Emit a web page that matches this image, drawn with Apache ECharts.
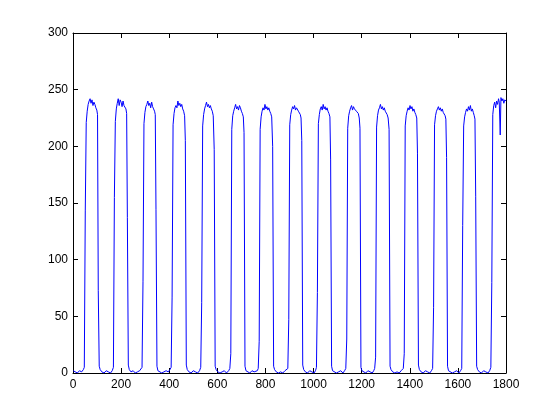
<!DOCTYPE html>
<html>
<head>
<meta charset="utf-8">
<script src="https://cdn.jsdelivr.net/npm/echarts@6/dist/echarts.min.js"></script>
<style>
  html, body { margin: 0; padding: 0; background: #fff; }
  #chart { width: 560px; height: 420px; }
</style>
</head>
<body>
<div id="chart"></div>
<script>
// sample index / value pairs, one row per pulse + the gap after it
const sampleX = [
  1, 9, 18, 27, 36, 43, 47,
  51, 55, 59, 63, 67, 71, 75, 79, 83, 87, 91, 95, 99, 102, 105,
  109, 113, 120, 129, 138, 147, 156, 163, 168,
  172, 176, 180, 184, 188, 192, 196, 200, 204, 208, 212, 216, 220, 223, 226,
  230, 234, 241, 250, 259, 268, 277, 282, 287,
  291, 295, 299, 303, 307, 311, 315, 319, 323, 327, 331, 335, 339, 342, 345,
  349, 353, 360, 369, 378, 387, 396, 403, 408,
  412, 416, 420, 424, 428, 432, 436, 440, 444, 448, 452, 456, 460, 464, 467,
  471, 475, 482, 491, 500, 509, 518, 526, 531,
  535, 539, 543, 547, 551, 555, 559, 563, 567, 571, 575, 579, 583, 587,
  591, 595, 602, 611, 620, 629, 638, 647, 652,
  656, 660, 664, 668, 672, 676, 680, 684, 688, 692, 696, 700, 704, 708, 711,
  715, 719, 726, 735, 744, 753, 761, 766, 770,
  774, 778, 782, 786, 790, 794, 798, 802, 806, 810, 814, 818, 822, 826, 830,
  834, 838, 845, 854, 863, 872, 881, 888, 893,
  897, 901, 905, 909, 913, 917, 921, 925, 929, 933, 937, 941, 945, 948, 951,
  955, 959, 966, 975, 984, 993, 1002, 1008, 1012,
  1016, 1020, 1024, 1028, 1032, 1036, 1040, 1044, 1048, 1052, 1056, 1060, 1064, 1068, 1071,
  1075, 1079, 1086, 1095, 1104, 1113, 1122, 1129, 1134,
  1138, 1142, 1146, 1150, 1154, 1158, 1162, 1166, 1170, 1174, 1178, 1182, 1186, 1190, 1193,
  1197, 1201, 1208, 1217, 1226, 1235, 1244, 1250, 1254,
  1258, 1262, 1266, 1270, 1274, 1278, 1282, 1286, 1290, 1294, 1298, 1302, 1306, 1310, 1314,
  1318, 1322, 1329, 1338, 1347, 1356, 1364, 1369, 1373,
  1377, 1381, 1385, 1389, 1393, 1397, 1401, 1405, 1409, 1413, 1417, 1421, 1425, 1429, 1432,
  1436, 1440, 1447, 1456, 1465, 1474, 1483, 1490, 1495,
  1499, 1503, 1507, 1511, 1515, 1519, 1523, 1527, 1531, 1535, 1539, 1543, 1547, 1550, 1553,
  1557, 1561, 1568, 1577, 1586, 1595, 1604, 1611, 1616,
  1620, 1624, 1628, 1632, 1636, 1640, 1644, 1648, 1652, 1656, 1660, 1664, 1668, 1671, 1674,
  1678, 1682, 1689, 1698, 1707, 1716, 1725, 1732, 1737,
  1741, 1745, 1749, 1753, 1757, 1761, 1765, 1769, 1772, 1776, 1779, 1783, 1787, 1791, 1795, 1800
]
const sampleY = [
  2, 1, 0, 2, 1, 3, 5,
  143, 221, 231, 237, 240, 242, 238, 241, 236, 239, 237, 234, 232, 228, 73,
  6, 3, 1, 0, 2, 1, 0, 2, 5,
  155, 222, 233, 238, 242, 236, 241, 239, 235, 240, 236, 237, 233, 229, 137,
  7, 3, 1, 2, 0, 1, 2, 3, 5,
  81, 220, 230, 235, 237, 240, 236, 238, 234, 239, 235, 233, 231, 228, 144,
  6, 2, 1, 0, 1, 2, 1, 3, 5,
  67, 219, 229, 234, 236, 234, 240, 236, 238, 235, 237, 233, 231, 227, 205,
  7, 3, 1, 0, 2, 1, 0, 2, 5,
  62, 218, 228, 233, 236, 239, 235, 237, 234, 236, 233, 231, 227, 197,
  6, 3, 1, 0, 1, 2, 0, 2, 4,
  17, 215, 227, 231, 234, 237, 233, 235, 232, 236, 234, 231, 229, 226, 212,
  6, 2, 1, 0, 2, 1, 0, 2, 4,
  28, 215, 226, 231, 234, 232, 237, 233, 235, 232, 234, 231, 229, 226, 200,
  6, 3, 1, 0, 1, 0, 2, 2, 4,
  47, 219, 228, 232, 235, 233, 236, 232, 234, 233, 231, 230, 228, 225, 205,
  7, 3, 1, 0, 2, 1, 0, 2, 5,
  71, 220, 228, 233, 235, 232, 237, 233, 235, 232, 234, 231, 229, 226, 188,
  6, 2, 1, 0, 1, 2, 0, 2, 4,
  30, 216, 227, 231, 234, 236, 232, 235, 233, 234, 231, 232, 229, 225, 216,
  5, 2, 1, 0, 2, 1, 0, 2, 4,
  14, 217, 227, 232, 234, 237, 233, 235, 232, 234, 231, 230, 228, 225, 215,
  6, 3, 1, 0, 1, 0, 2, 2, 4,
  17, 218, 227, 231, 234, 232, 236, 233, 235, 231, 233, 230, 228, 225, 194,
  7, 3, 1, 0, 2, 1, 0, 2, 4,
  58, 219, 227, 231, 233, 235, 232, 234, 231, 233, 230, 229, 227, 224, 190,
  6, 2, 1, 0, 1, 2, 0, 2, 4,
  130, 218, 226, 230, 233, 231, 235, 232, 236, 231, 233, 230, 227, 224, 156,
  6, 3, 1, 0, 2, 1, 0, 2, 5,
  80, 228, 236, 239, 234, 240, 237, 242, 239, 210, 243, 240, 242, 238, 241, 240
]

const xTicks = [0, 200, 400, 600, 800, 1000, 1200, 1400, 1600, 1800]
const yTicks = [0, 50, 100, 150, 200, 250, 300]

const chart = echarts.init(document.getElementById('chart'))

const points = sampleX.map((x, i) => [x, sampleY[i]])

const labelFont = { fontFamily: 'Liberation Sans, Arial, sans-serif', fontSize: 12, color: '#000' }
const axisLine = { show: true, onZero: false, lineStyle: { color: '#000', width: 1 } }
const tickIn = { show: true, inside: true, length: 5, lineStyle: { color: '#000' } }
const plain = v => String(v)

chart.setOption({
  animation: false,
  grid: { left: 73, right: 54, top: 33, bottom: 47 },
  xAxis: [
    {
      type: 'value', position: 'bottom',
      min: xTicks[0], max: xTicks[xTicks.length - 1], interval: 200,
      axisLine, axisTick: tickIn, splitLine: { show: false },
      axisLabel: { ...labelFont, margin: 6, formatter: plain }
    },
    {
      type: 'value', position: 'top',
      min: xTicks[0], max: xTicks[xTicks.length - 1], interval: 200,
      axisLine, axisTick: tickIn, splitLine: { show: false },
      axisLabel: { show: false }
    }
  ],
  yAxis: [
    {
      type: 'value', position: 'left',
      min: yTicks[0], max: yTicks[yTicks.length - 1], interval: 50,
      axisLine, axisTick: tickIn, splitLine: { show: false },
      axisLabel: { ...labelFont, margin: 5, formatter: plain }
    },
    {
      type: 'value', position: 'right',
      min: yTicks[0], max: yTicks[yTicks.length - 1], interval: 50,
      axisLine, axisTick: tickIn, splitLine: { show: false },
      axisLabel: { show: false }
    }
  ],
  series: [
    {
      type: 'line',
      data: points,
      showSymbol: false,
      lineStyle: { color: '#0000ff', width: 1 },
      itemStyle: { color: '#0000ff' }
    }
  ]
})
</script>
</body>
</html>
